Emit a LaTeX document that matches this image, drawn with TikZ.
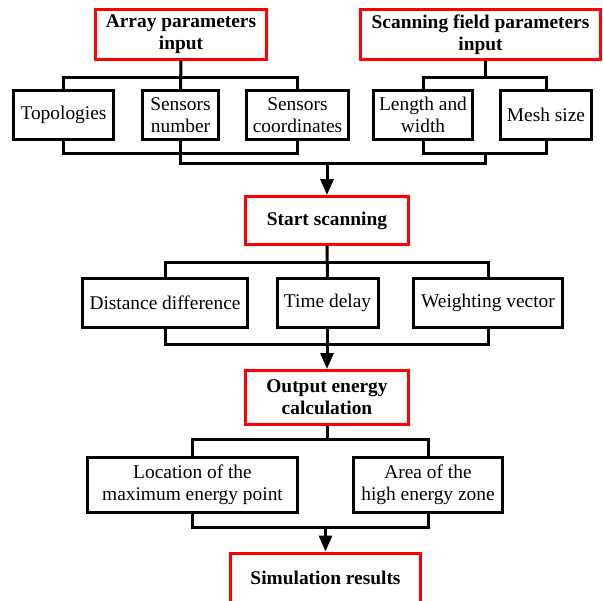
\documentclass[tikz,border=0pt]{standalone}
\usepackage{fontspec}
\setmainfont{Liberation Serif}
\usetikzlibrary{arrows.meta}
\begin{document}
\begin{tikzpicture}[x=0.5pt,y=-0.5pt,
  redbox/.style={draw=red, line width=1.5pt, align=center, inner sep=0pt,
    font=\fontsize{9.7}{11}\selectfont\bfseries},
  blkbox/.style={draw=black, line width=1.5pt, align=center, inner sep=0pt,
    font=\fontsize{9.7}{11}\selectfont},
  bus/.style={line width=1.5pt, line join=miter},
  flow/.style={line width=1.5pt, -{Triangle[length=8pt,width=6.5pt]}}]
\useasboundingbox (0,0) rectangle (603,600);
% top level
\node[redbox, minimum width=85.5pt, minimum height=25pt] (arr) at (181,34.5) {Array parameters\\input};
\node[redbox, minimum width=120pt, minimum height=25pt] (scan) at (480.5,34.5) {Scanning field parameters\\input};
\node[blkbox, minimum width=50pt, minimum height=24.5pt] (topo) at (63.5,115) {Topologies};
\node[blkbox, minimum width=38pt, minimum height=24.5pt] (snum) at (180.5,115) {Sensors\\number};
\node[blkbox, minimum width=51pt, minimum height=24.5pt] (scoord) at (297.5,115) {Sensors\\coordinates};
\node[blkbox, minimum width=49.5pt, minimum height=24.5pt] (lw) at (423,115) {Length and\\width};
\node[blkbox, minimum width=45.5pt, minimum height=24.5pt] (mesh) at (546,115) {Mesh size};
% start scanning
\node[redbox, minimum width=81.5pt, minimum height=24pt] (start) at (327,220.5) {Start scanning};
\node[blkbox, minimum width=82.5pt, minimum height=24.5pt] (dist) at (165,303) {Distance difference};
\node[blkbox, minimum width=50.5pt, minimum height=24.5pt] (tdel) at (327.5,303) {Time delay};
\node[blkbox, minimum width=74.5pt, minimum height=24.5pt] (wvec) at (488,303) {Weighting vector};
% output energy
\node[redbox, minimum width=81.5pt, minimum height=27pt] (out) at (327,397.5) {Output energy\\calculation};
\node[blkbox, minimum width=105pt, minimum height=27.5pt] (loc) at (192.5,485) {Location of the\\maximum energy point};
\node[blkbox, minimum width=74.5pt, minimum height=27.5pt] (area) at (428,485) {Area of the\\high energy zone};
\node[redbox, minimum width=95pt, minimum height=25pt] (sim) at (325.5,578) {Simulation results};
% coordinates
\coordinate (sc) at (485,77);
\coordinate (j1) at (485,163);
% array buses
\draw[bus] (arr.south) -- (snum.north);
\draw[bus] (topo.north) -- (topo.north |- 0,77) -| (scoord.north);
\draw[bus] (topo.south) -- (topo.south |- 0,153) -| (scoord.south);
% scanning field buses
\draw[bus] (sc |- scan.south) -- (sc);
\draw[bus] (lw.north) -- (lw.north |- sc) -| (mesh.north);
\draw[bus] (lw.south) -- (lw.south |- 0,153) -| (mesh.south);
\draw[bus] (snum.south) -- (snum.south |- j1) -- (j1) -- (j1 |- 0,153);
\draw[flow] (start.north |- j1) -- (start.north);
% start scanning buses
\draw[bus] (start.south) -- (tdel.north);
\draw[bus] (dist.north) -- (dist.north |- 0,262) -| (wvec.north);
\draw[bus] (dist.south) -- (dist.south |- 0,344) -| (wvec.south);
\draw[bus] (tdel.south) -- (tdel.south |- 0,344);
\draw[flow] (out.north |- 0,344) -- (out.north);
% output energy buses
\draw[bus] (out.south) -- (out.south |- 0,439);
\draw[bus] (loc.north) -- (loc.north |- 0,439) -| (area.north);
\draw[bus] (loc.south) -- (loc.south |- 0,527) -| (area.south);
\draw[flow] (sim.north |- 0,527) -- (sim.north);
\end{tikzpicture}
\end{document}
